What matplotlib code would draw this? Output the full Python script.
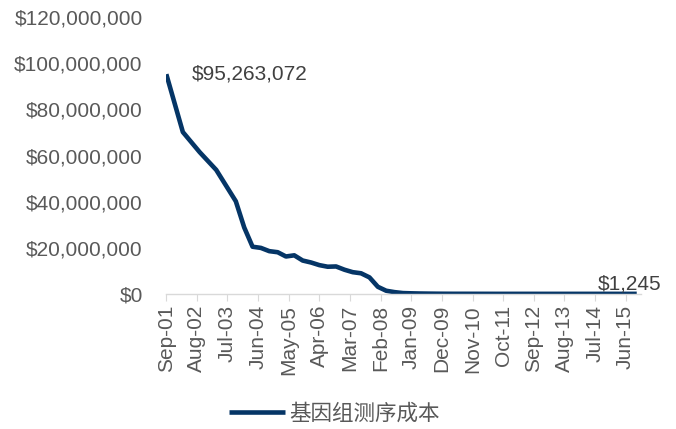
import matplotlib
matplotlib.use('Agg')
import matplotlib.pyplot as plt
import matplotlib.dates as mdates
import matplotlib.ticker as mticker
import pandas as pd

# cost per genome, quarterly
dates = ['2001-09', '2002-03', '2002-09', '2003-03', '2003-10', '2004-01', '2004-04',
         '2004-07', '2004-10', '2005-01', '2005-04', '2005-07', '2005-10', '2006-01',
         '2006-04', '2006-07', '2006-10', '2007-01', '2007-04', '2007-07', '2007-10',
         '2008-01', '2008-04', '2008-07', '2008-10', '2009-01', '2009-04', '2009-07',
         '2009-10', '2010-01', '2010-04', '2010-07', '2010-10', '2011-01', '2011-04',
         '2011-07', '2011-10', '2012-01', '2012-04', '2012-07', '2012-10', '2013-01',
         '2013-04', '2013-07', '2013-10', '2014-01', '2014-04', '2014-07', '2014-10',
         '2015-01', '2015-04', '2015-07', '2015-10']
cost = [95263072, 70175437, 61448422, 53751684, 40157554, 28780376, 20442576,
        19934346, 18519312, 18057591, 16212473, 16712864, 14455054, 13596060,
        12465936, 11770006, 11881910, 10465168, 9408739, 8928207, 7147571,
        3063820, 1352982, 752080, 342502, 232735, 154714, 108065,
        70333, 46774, 31512, 31125, 29092, 20963, 16712,
        10497, 7743, 7666, 5901, 7950, 6618, 5671,
        5826, 5550, 5096, 4008, 4920, 4905, 5731,
        3970, 4211, 1363, 1245]
series_name = '基因组测序成本'

x = pd.to_datetime(dates)
grey = '#595959'
navy = '#053566'

plt.rcParams['font.family'] = ['Liberation Sans', 'Noto Sans CJK SC', 'DejaVu Sans']

fig = plt.figure(figsize=(6.76, 4.29), dpi=100)
ax = fig.add_axes([0.246, 0.315, 0.702, 0.645])

ax.plot(x, cost, color=navy, lw=3.3, solid_capstyle='butt', label=series_name)

ax.set_ylim(0, 120000000)
ax.set_yticks(range(0, 120000001, 20000000))
ax.yaxis.set_major_formatter(mticker.FuncFormatter(lambda v, p: '${:,.0f}'.format(v)))

ax.set_xlim(pd.Timestamp('2001-09-01'), pd.Timestamp('2015-11-15'))
ticks = pd.date_range('2001-09-01', '2015-06-01', freq='11MS')
ax.set_xticks(ticks)
ax.xaxis.set_major_formatter(mdates.DateFormatter('%b-%y'))
plt.setp(ax.get_xticklabels(), rotation=90)

for s in ['top', 'right', 'left']:
    ax.spines[s].set_visible(False)
ax.spines['bottom'].set_color('#d9d9d9')
ax.spines['bottom'].set_linewidth(1)
ax.tick_params(axis='y', length=0, labelsize=15, colors=grey, pad=17)
ax.tick_params(axis='x', length=5, color='#d9d9d9', labelsize=15, labelcolor=grey, pad=3)

# value labels at both ends
ax.annotate('${:,}'.format(cost[0]), (x[0], cost[0]), xytext=(18.5, 0),
            textcoords='offset points', fontsize=15, color='#404040',
            ha='left', va='center')
ax.annotate('${:,}'.format(cost[-1]), (x[-1], cost[-1]), xytext=(-5, 0),
            textcoords='offset points', fontsize=15, color='#404040',
            ha='center', va='bottom')

fig.legend(loc='lower center', bbox_to_anchor=(0.495, -0.035), frameon=False,
           fontsize=15.5, labelcolor=grey, handlelength=2.6, handletextpad=0.2)

fig.savefig('out.png', dpi=100)
